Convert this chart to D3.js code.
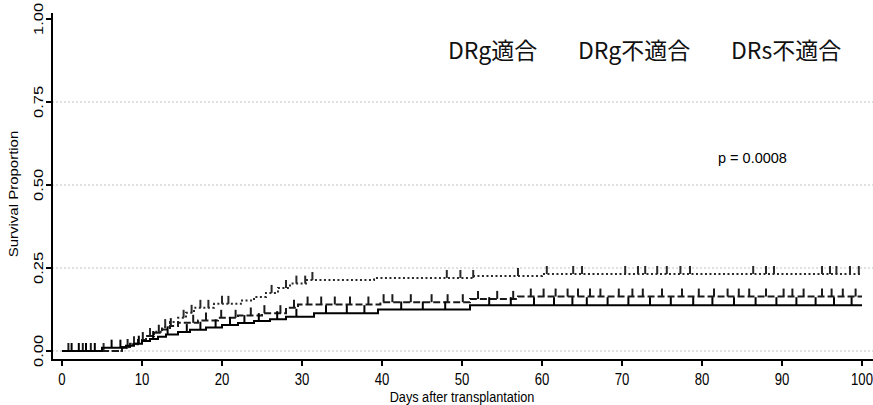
<!DOCTYPE html>
<html>
<head>
<meta charset="utf-8">
<script src="https://cdn.jsdelivr.net/npm/d3@7"></script>
<style>
  html, body { margin: 0; padding: 0; background: #fff; }
  svg { display: block; }
</style>
</head>
<body>
<svg id="chart" width="873" height="405"></svg>
<script>
// Group labels (legend order)
const groups = ["DRg適合", "DRg不適合", "DRs不適合"];

// Cumulative incidence step curves: event days and values after each step
const solidTimes  = [0, 5, 8, 9, 10, 11, 12, 13, 14.5, 16, 18, 20, 22, 24, 26, 28, 31.5, 39.5, 51, 100];
const solidVals   = [0, 0.01, 0.016, 0.022, 0.03, 0.036, 0.043, 0.05, 0.057, 0.064, 0.071, 0.078, 0.084, 0.09, 0.096, 0.103, 0.114, 0.125, 0.138, 0.138];

const dashedTimes = [0, 7.5, 8.5, 9.5, 10.5, 11.5, 12.5, 13.5, 14.5, 17, 19.5, 22, 25, 28, 29.5, 39.8, 51, 57, 100];
const dashedVals  = [0, 0.012, 0.022, 0.033, 0.045, 0.055, 0.065, 0.075, 0.085, 0.092, 0.1, 0.107, 0.114, 0.13, 0.14, 0.147, 0.157, 0.164, 0.164];

const dottedTimes = [0, 7.5, 8.5, 9.5, 10.5, 11.5, 12.5, 13.5, 14.5, 15.5, 16.5, 19, 22.5, 24, 25.5, 27, 28.5, 30.5, 39, 51.5, 60, 100];
const dottedVals  = [0, 0.01, 0.02, 0.033, 0.045, 0.058, 0.072, 0.087, 0.1, 0.115, 0.13, 0.142, 0.152, 0.163, 0.175, 0.19, 0.203, 0.214, 0.22, 0.226, 0.232, 0.232];

// Censoring days per group
const solidCensor  = [1.2, 2.1, 3.0, 4.1, 6.2, 7.3, 9.6, 11.4, 13.2, 15.6, 17.3, 19.2, 21.0, 22.8, 24.6, 26.9, 29.3, 33.0, 35.6, 37.8, 42.4, 45.1, 47.9, 53.4, 56.1, 59.0, 61.5, 63.8, 65.6, 68.2, 70.8, 73.5, 76.1, 78.9, 81.3, 84.0, 86.7, 89.3, 91.8, 94.2, 96.5, 98.7];
const dashedCensor = [0.8, 2.6, 3.6, 8.2, 10.1, 12.1, 13.6, 16.4, 18.0, 19.9, 21.7, 23.6, 25.3, 27.3, 29.0, 30.7, 32.4, 34.1, 36.0, 38.3, 40.2, 41.3, 43.6, 46.2, 48.2, 50.1, 52.0, 54.4, 56.4, 58.6, 60.2, 61.7, 63.2, 64.5, 66.0, 67.3, 69.6, 71.3, 72.6, 75.0, 77.5, 79.6, 81.5, 83.2, 84.6, 85.9, 88.0, 90.2, 91.3, 92.7, 95.0, 96.2, 97.6, 99.2];
const dottedCensor = [5.2, 9.0, 11.0, 12.9, 15.2, 16.2, 17.3, 18.3, 20.0, 20.8, 26.2, 28.0, 29.3, 30.4, 31.3, 48.1, 49.8, 51.4, 57.0, 60.6, 63.9, 65.0, 70.4, 72.0, 72.9, 74.4, 75.6, 77.3, 78.5, 86.4, 88.0, 89.0, 95.0, 96.0, 96.8, 98.5, 99.6];

// Axis ticks
const xTicks = [0, 10, 20, 30, 40, 50, 60, 70, 80, 90, 100];
const yTicks = [0, 0.25, 0.5, 0.75, 1];
const gridTicks = [0, 0.25, 0.5, 0.75];
const pLabel = "p = 0.0008";

const svg = d3.select("#chart");
const W = 873, H = 405;
const xs = d3.scaleLinear().domain([0, 100]).range([62, 862]);
const ys = d3.scaleLinear().domain([0, 1]).range([351, 19]);
const axisX = 52, axisY = 360;
const sans = "'Liberation Sans', Arial, sans-serif";
const squeeze = 0.82;   // horizontal compression of axis lettering
const axisFont = 16.5;

// Dotted horizontal grid lines
svg.append("g").selectAll("line").data(gridTicks).join("line")
  .attr("x1", axisX).attr("x2", W)
  .attr("y1", d => ys(d)).attr("y2", d => ys(d))
  .attr("stroke", "#d6d6d6").attr("stroke-width", 1.5)
  .attr("stroke-dasharray", "2,2");

// Series definitions
const series = [
  { times: solidTimes,  vals: solidVals,  censor: solidCensor,  color: "#000", dash: null },
  { times: dashedTimes, vals: dashedVals, censor: dashedCensor, color: "#1a1a1a", dash: "7,3" },
  { times: dottedTimes, vals: dottedVals, censor: dottedCensor, color: "#2a2a2a", dash: "2,2.5" }
];

const line = d3.line().x(d => xs(d[0])).y(d => ys(d[1])).curve(d3.curveStepAfter);

// Draw in reverse so the solid line sits on top
series.slice().reverse().forEach(s => {
  const pts = s.times.map((t, i) => [t, s.vals[i]]);
  const g = svg.append("g");
  g.append("path")
    .attr("d", line(pts))
    .attr("fill", "none")
    .attr("stroke", s.color)
    .attr("stroke-width", 2)
    .attr("stroke-dasharray", s.dash);
  const valueAt = t => {
    let v = 0;
    for (let i = 0; i < s.times.length; i++) if (s.times[i] <= t) v = s.vals[i];
    return v;
  };
  g.selectAll("line.cens").data(s.censor).join("line")
    .attr("class", "cens")
    .attr("x1", d => xs(d)).attr("x2", d => xs(d))
    .attr("y1", d => ys(valueAt(d)))
    .attr("y2", d => ys(valueAt(d)) - 8)
    .attr("stroke", s.color).attr("stroke-width", 2);
});

// Axes lines
svg.append("line").attr("x1", axisX).attr("x2", axisX).attr("y1", 13).attr("y2", axisY + 1)
  .attr("stroke", "#000").attr("stroke-width", 2);
svg.append("line").attr("x1", axisX - 1).attr("x2", W).attr("y1", axisY).attr("y2", axisY)
  .attr("stroke", "#000").attr("stroke-width", 2);

// X ticks and labels
const xg = svg.append("g");
xg.selectAll("line").data(xTicks).join("line")
  .attr("x1", d => xs(d)).attr("x2", d => xs(d))
  .attr("y1", axisY).attr("y2", axisY + 6)
  .attr("stroke", "#000").attr("stroke-width", 2);
xg.selectAll("text").data(xTicks).join("text")
  .attr("transform", d => `translate(${xs(d)},384.5) scale(${squeeze},1)`)
  .attr("text-anchor", "middle")
  .attr("font-family", sans).attr("font-size", 16)
  .text(d => d);

// Y ticks and rotated labels
const yg = svg.append("g");
yg.selectAll("line").data(yTicks).join("line")
  .attr("x1", axisX - 6).attr("x2", axisX)
  .attr("y1", d => ys(d)).attr("y2", d => ys(d))
  .attr("stroke", "#000").attr("stroke-width", 2);
yg.selectAll("text").data(yTicks).join("text")
  .attr("transform", d => `translate(43,${ys(d)}) rotate(-90) scale(1,${squeeze})`)
  .attr("text-anchor", "middle")
  .attr("font-family", sans).attr("font-size", axisFont)
  .text(d => d.toFixed(2));

// Axis titles
svg.append("text")
  .attr("transform", `translate(462,402) scale(${squeeze},1)`)
  .attr("text-anchor", "middle")
  .attr("font-family", sans).attr("font-size", 15.5)
  .text("Days after transplantation");
svg.append("text")
  .attr("transform", `translate(17.5,194) rotate(-90) scale(1,${squeeze})`)
  .attr("text-anchor", "middle")
  .attr("font-family", sans).attr("font-size", 15)
  .text("Survival Proportion");

// Group labels
const legendX = [448, 578, 731];
svg.append("g").selectAll("text").data(groups).join("text")
  .attr("x", (d, i) => legendX[i]).attr("y", 58.5)
  .attr("font-family", "'Noto Sans CJK JP', 'Noto Sans', sans-serif")
  .attr("font-size", 23)
  .attr("fill", "#111")
  .text(d => d);

// p-value annotation
svg.append("text")
  .attr("x", 718).attr("y", 163)
  .attr("font-family", sans)
  .attr("font-size", 14.5)
  .text(pLabel);
</script>
</body>
</html>
